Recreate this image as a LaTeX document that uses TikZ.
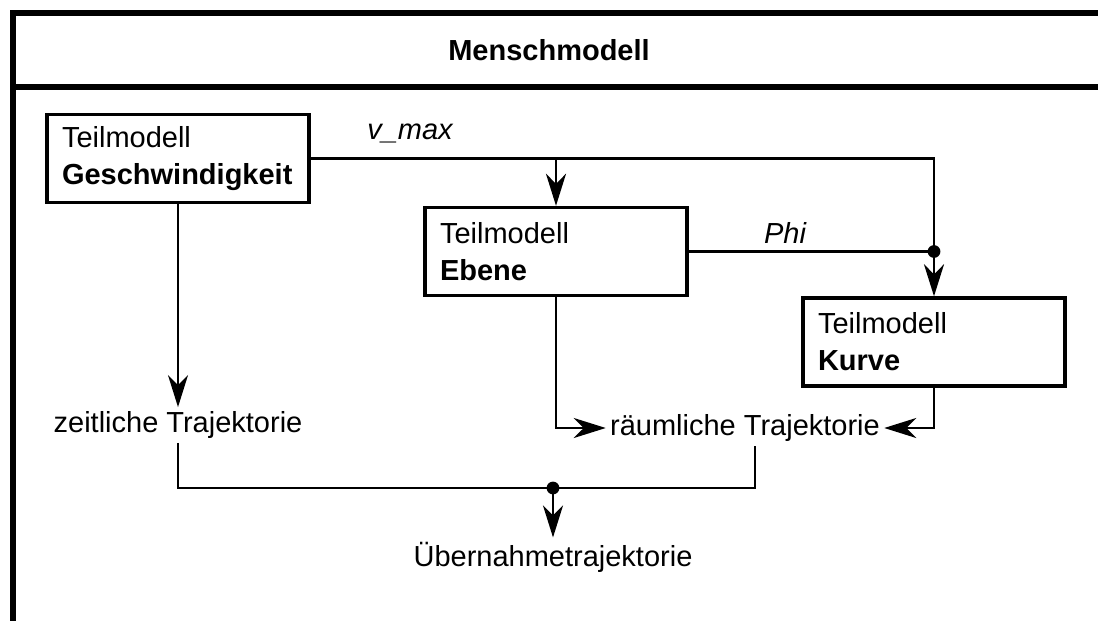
\documentclass[tikz,border=0pt]{standalone}
\usepackage{fontspec}
\setmainfont{Liberation Sans}
\usepackage{tikz}
\usetikzlibrary{arrows.meta, positioning, calc}
\tikzstyle{frame} = [line width=3pt]
\tikzstyle{submodel} = [rectangle, draw=black, line width=1.7pt, text width=116pt, inner xsep=7.5pt, minimum height=44pt, align=left, font=\fontsize{14.5}{18.5}\selectfont]
\tikzstyle{label} = [inner sep=2pt, font=\fontsize{14.5}{18.5}\selectfont]
\tikzstyle{signal} = [inner sep=0pt, font=\fontsize{14.5}{18.5}\selectfont\itshape]
\tikzstyle{arrow} = [line width=1.3pt, -{Stealth[length=16pt, width=10pt, inset=5pt]}]
\tikzstyle{line} = [line width=1.3pt]

\begin{document}
\begin{tikzpicture}[x=0.5pt, y=-0.5pt]
\useasboundingbox (0,0) rectangle (1098,621);

% Frame
\draw [frame] (13,621) -- (13,13) -- (1098,13);
\draw [frame] (13,87) -- (1098,87);
\node (title) [label, font=\fontsize{14.5}{18.5}\selectfont\bfseries] at (549,50) {Menschmodell};

% Nodes
\node (geschw) [submodel] at (178,158.5) {Teilmodell\\\textbf{Geschwindigkeit}};
\node (ebene) [submodel] at (556,251.5) {Teilmodell\\\textbf{Ebene}};
\node (kurve) [submodel] at (934,342) {Teilmodell\\\textbf{Kurve}};

\node (zeit) [label] at (178,425) {zeitliche Trajektorie};
\node (raum) [label] at (745,428) {räumliche Trajektorie};
\node (ueber) [label] at (553,557) {Übernahmetrajektorie};

\node (vmax) [signal] at (410,133) {v\_max};
\node (phi) [signal] at (785,233) {Phi};

\coordinate (phidot) at (ebene.east -| kurve.north);
\coordinate (join) at (553,488);

% Arrows
\draw [arrow] (geschw.east) -| (kurve.north);
\draw [arrow] (geschw.east -| ebene.north) -- (ebene.north);
\draw [line] (ebene.east) -- (phidot);
\fill (phidot) circle (3.2pt);

\draw [arrow] (geschw.south) -- (zeit.north);
\draw [arrow] (ebene.south) |- (raum.west);
\draw [arrow] (kurve.south) |- (raum.east);

\draw [line] (zeit.south) |- (join) -| ([xshift=5pt]raum.south);
\fill (join) circle (3.2pt);
\draw [arrow] (join) -- (ueber.north);

\end{tikzpicture}
\end{document}
